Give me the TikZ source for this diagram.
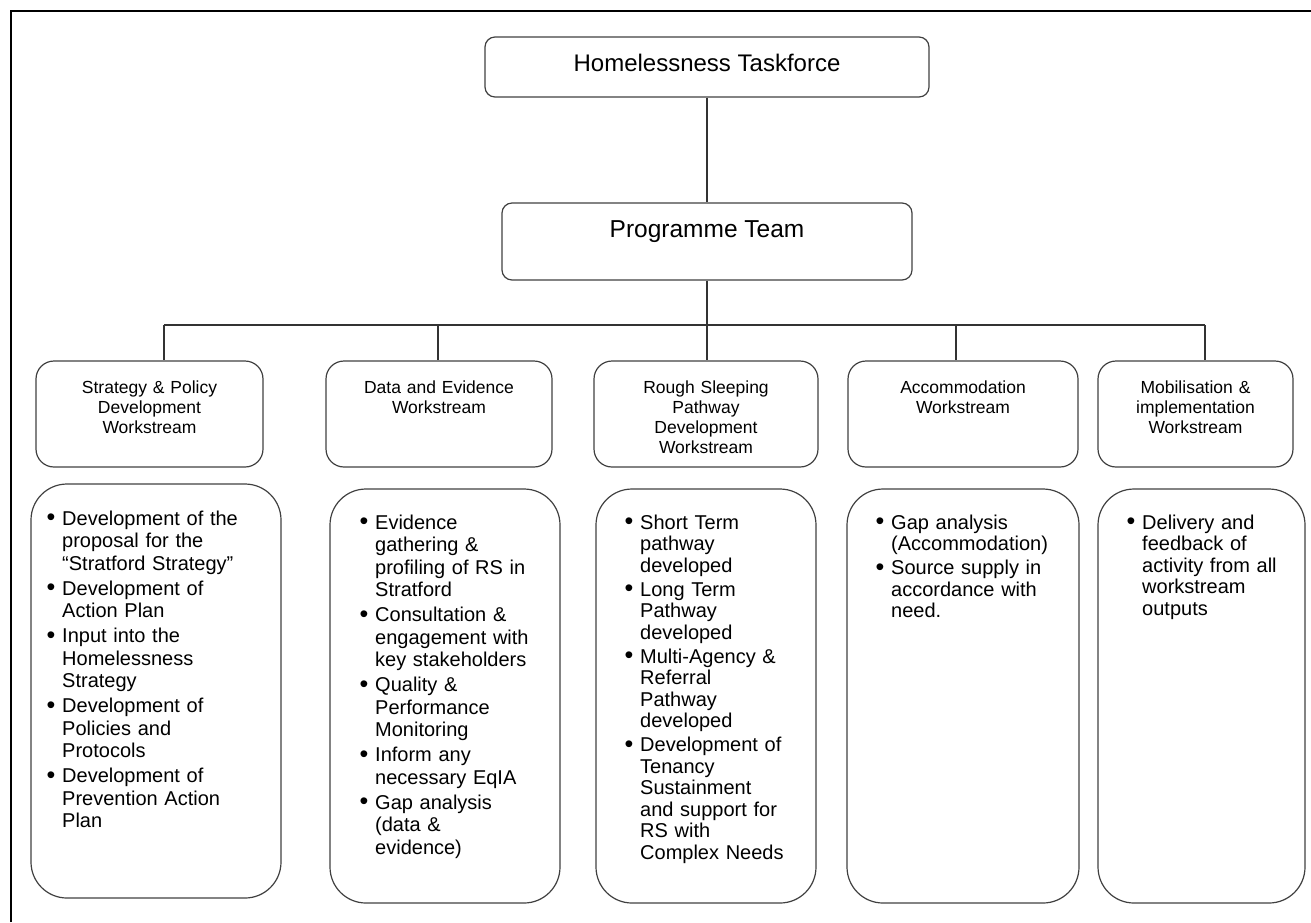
\documentclass[tikz,border=0pt]{standalone}
\usepackage{fontspec}
\setmainfont{Liberation Sans}

\tikzset{
  topbox/.style={draw=black!75, line width=1.2pt, rounded corners=10pt, inner sep=0pt},
  wsbox/.style={draw=black!75, line width=1.2pt, rounded corners=18pt, minimum height=106pt, inner sep=0pt},
  wstitle/.style={text width=220pt, align=center, inner sep=0pt, anchor=base, font=\fontsize{17.5}{20}\selectfont},
  listbox/.style={draw=black!75, line width=1.2pt, rounded corners=36pt, minimum height=414pt, inner sep=0pt},
  listtext/.style={text width=240pt, align=left, inner sep=0pt, anchor=base west, font=\fontsize{20}{22.5}\selectfont},
  link/.style={draw=black!80, line width=1.2pt},
}
\newcommand{\bul}{\makebox[15.5pt][l]{\raisebox{-0.8pt}{\scalebox{1.25}{\textbullet}}}}
\newcommand{\ind}{\hspace*{15.5pt}}

\begin{document}
\begin{tikzpicture}[x=1pt, y=-1pt]
    \useasboundingbox (0,0) rectangle (1311,922);

    % --- Page frame ---
    \draw[line width=2pt] (11,922) -- (11,11) -- (1311,11);

    % --- Taskforce and Programme Team ---
    \node[topbox, minimum width=444pt, minimum height=60pt, text depth=8.8pt,
          font=\fontsize{24}{28}\selectfont] (task) at (707,67) {Homelessness Taskforce};
    \node[topbox, minimum width=410pt, minimum height=77pt, text depth=24pt,
          font=\fontsize{24.5}{28}\selectfont] (prog) at (707,241.5) {Programme Team};

    % --- Workstream boxes ---
    \node[wsbox, minimum width=227pt] (ws1) at (149.5,414) {};
    \node[wsbox, minimum width=226pt] (ws2) at (439,414) {};
    \node[wsbox, minimum width=224pt] (ws3) at (706,414) {};
    \node[wsbox, minimum width=230pt] (ws4) at (963,414) {};
    \node[wsbox, minimum width=195pt] (ws5) at (1195.5,414) {};

    % Workstream titles
    \node[wstitle] (t1) at (149.5,393) {Strategy \& Policy\\Development\\Workstream};
    \node[wstitle] (t2) at (439,393) {Data and Evidence\\Workstream};
    \node[wstitle] (t3) at (706,393) {Rough Sleeping\\Pathway\\Development\\Workstream};
    \node[wstitle] (t4) at (963,393) {Accommodation\\Workstream};
    \node[wstitle] (t5) at (1195.5,393) {Mobilisation \&\\implementation\\Workstream};

    % --- Connectors ---
    \coordinate (b1) at (164,325);
    \coordinate (b2) at (438,325);
    \coordinate (b4) at (956,325);
    \coordinate (b5) at (1205,325);
    \draw[link] (task) -- (prog);
    \draw[link] (prog.south) -- (prog.south |- ws3.north);
    \draw[link] (b1) -- (b5);
    \foreach \b/\w in {b1/ws1, b2/ws2, b4/ws4, b5/ws5}
        \draw[link] (\b) -- (\b |- \w.north);

    % --- Task lists ---
    \node[listbox, minimum width=250pt] (l1) at (156,691) {};
    \node[listbox, minimum width=230pt] (l2) at (445,696) {};
    \node[listbox, minimum width=220pt] (l3) at (706,696) {};
    \node[listbox, minimum width=232pt] (l4) at (963,696) {};
    \node[listbox, minimum width=207pt] (l5) at (1201.5,696) {};

    \node[listtext] (x1) at (46.5,525) {%
        \bul Development of the\\ \ind proposal for the\\ \ind “Stratford Strategy”\\[2.5pt]
        \bul Development of\\ \ind Action Plan\\[2.5pt]
        \bul Input into the\\ \ind Homelessness\\ \ind Strategy\\[2.5pt]
        \bul Development of\\ \ind Policies and\\ \ind Protocols\\[2.5pt]
        \bul Development of\\ \ind Prevention Action\\ \ind Plan};
    \node[listtext] (x2) at (359.5,529) {%
        \bul Evidence\\ \ind gathering \&\\ \ind profiling of RS in\\ \ind Stratford\\[2.5pt]
        \bul Consultation \&\\ \ind engagement with\\ \ind key stakeholders\\[2.5pt]
        \bul Quality \&\\ \ind Performance\\ \ind Monitoring\\[2.5pt]
        \bul Inform any\\ \ind necessary EqIA\\[2.5pt]
        \bul Gap analysis\\ \ind (data \&\\ \ind evidence)};
    \node[listtext, font=\fontsize{20}{21.5}\selectfont] (x3) at (624.5,529) {%
        \bul Short Term\\ \ind pathway\\ \ind developed\\[2.5pt]
        \bul Long Term\\ \ind Pathway\\ \ind developed\\[2.5pt]
        \bul Multi-Agency \&\\ \ind Referral\\ \ind Pathway\\ \ind developed\\[2.5pt]
        \bul Development of\\ \ind Tenancy\\ \ind Sustainment\\ \ind and support for\\ \ind RS with\\ \ind Complex Needs};
    \node[listtext, font=\fontsize{20}{21.5}\selectfont] (x4) at (875.5,529) {%
        \bul Gap analysis\\ \ind (Accommodation)\\[2.5pt]
        \bul Source supply in\\ \ind accordance with\\ \ind need.};
    \node[listtext, font=\fontsize{20}{21.5}\selectfont] (x5) at (1126.5,529) {%
        \bul Delivery and\\ \ind feedback of\\ \ind activity from all\\ \ind workstream\\ \ind outputs};

\end{tikzpicture}
\end{document}
